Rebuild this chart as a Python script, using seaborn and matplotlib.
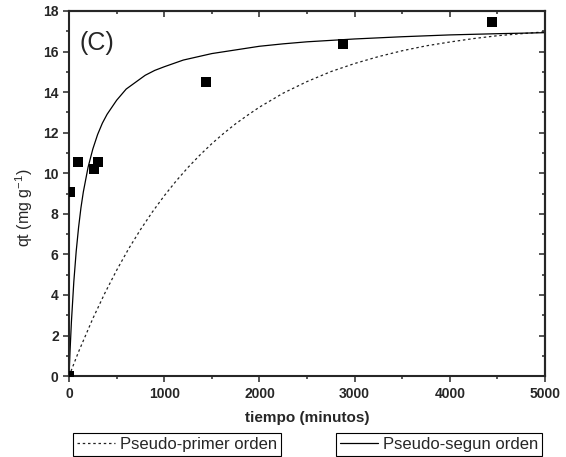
import seaborn as sns
import pandas as pd
import numpy as np
import matplotlib.pyplot as plt
from matplotlib.ticker import MultipleLocator

# experimental points
t_exp = [0, 15, 90, 260, 300, 1440, 2880, 4440]
q_exp = [0.0, 9.06, 10.57, 10.19, 10.57, 14.48, 16.39, 17.47]

# pseudo-primer orden
t_pfo = [0, 100, 250, 375, 500, 625, 750, 875, 1000, 1125, 1250, 1375, 1500, 1625, 1750,
         1875, 2000, 2250, 2500, 2750, 3000, 3250, 3500, 3750, 4000, 4250, 4500, 4750, 5000]
q_pfo = [0.0, 1.2, 2.84, 4.08, 5.22, 6.27, 7.22, 8.09, 8.89, 9.62, 10.29, 10.9, 11.46, 11.97, 12.44,
         12.86, 13.26, 13.95, 14.52, 15.01, 15.41, 15.75, 16.04, 16.28, 16.47, 16.64, 16.78, 16.88, 16.97]

# pseudo-segun orden
t_pso = [0, 10, 25, 50, 75, 100, 125, 150, 200, 250, 300, 350, 400, 500, 600, 700, 800, 900,
         1000, 1200, 1500, 1750, 2000, 2250, 2500, 3000, 3500, 4000, 4500, 5000]
q_pso = [0.0, 1.19, 2.69, 4.65, 6.15, 7.33, 8.3, 9.08, 10.3, 11.2, 11.91, 12.47, 12.91, 13.6, 14.15,
         14.49, 14.83, 15.07, 15.25, 15.58, 15.9, 16.08, 16.26, 16.38, 16.48, 16.62, 16.73, 16.82, 16.88, 16.93]

sns.set_style("ticks")
plt.rcParams['font.family'] = ['Liberation Sans', 'DejaVu Sans']

fig = plt.figure(figsize=(5.66, 4.57), dpi=100)
ax = fig.add_axes([0.122, 0.177, 0.841, 0.799])

sns.lineplot(x=t_pfo, y=q_pfo, ax=ax, color="#222222", linewidth=0.9,
             linestyle=(0, (2, 2.2)), label="Pseudo-primer orden")
sns.lineplot(x=t_pso, y=q_pso, ax=ax, color="black", linewidth=0.9,
             label="Pseudo-segun orden")
sns.scatterplot(x=t_exp, y=q_exp, ax=ax, marker="s", s=44, color="black",
                edgecolor="black", linewidth=0, zorder=5)

ax.set_xlim(0, 5000)
ax.set_ylim(0, 18)
ax.xaxis.set_major_locator(MultipleLocator(1000))
ax.xaxis.set_minor_locator(MultipleLocator(500))
ax.yaxis.set_major_locator(MultipleLocator(2))
ax.yaxis.set_minor_locator(MultipleLocator(1))
ax.tick_params(which="major", direction="out", length=4, width=1.1, labelsize=10)
ax.tick_params(which="minor", direction="out", length=2.2, width=1.1)
for lab in ax.get_xticklabels() + ax.get_yticklabels():
    lab.set_fontweight("bold")
for s in ax.spines.values():
    s.set_linewidth(1.5)
    s.set_visible(True)

# inward ticks on top and right
top = ax.secondary_xaxis("top")
top.xaxis.set_major_locator(MultipleLocator(1000))
top.xaxis.set_minor_locator(MultipleLocator(500))
top.tick_params(which="major", direction="in", length=4, width=1.1, labeltop=False)
top.tick_params(which="minor", direction="in", length=2.2, width=1.1)
right = ax.secondary_yaxis("right")
right.yaxis.set_major_locator(MultipleLocator(2))
right.yaxis.set_minor_locator(MultipleLocator(1))
right.tick_params(which="major", direction="in", length=4, width=1.1, labelright=False)
right.tick_params(which="minor", direction="in", length=2.2, width=1.1)
for s in list(top.spines.values()) + list(right.spines.values()):
    s.set_linewidth(1.5)

ax.set_xlabel("tiempo (minutos)", fontsize=11, fontweight="bold")
ax.xaxis.set_label_coords(0.5, -0.095)
ax.set_ylabel(r"qt (mg g$^{\mathregular{-1}}$)", fontsize=11.5)
ax.yaxis.set_label_coords(-0.072, 0.46)
ax.text(0.022, 0.945, "(C)", transform=ax.transAxes, fontsize=18, va="top")

ax.get_legend().remove()
lines = ax.get_lines()
common = dict(loc="center left", fontsize=12, fancybox=False, edgecolor="black",
              handlelength=2.3, handletextpad=0.3, borderpad=0.22, borderaxespad=0,
              framealpha=1)
leg1 = fig.legend(handles=[lines[0]], labels=["Pseudo-primer orden"],
                  bbox_to_anchor=(73 / 566, 1 - 444.5 / 457), **common)
leg2 = fig.legend(handles=[lines[1]], labels=["Pseudo-segun orden"],
                  bbox_to_anchor=(336 / 566, 1 - 444.5 / 457), **common)
for lg in (leg1, leg2):
    lg.get_frame().set_linewidth(0.8)

fig.savefig("out.png", dpi=100)
